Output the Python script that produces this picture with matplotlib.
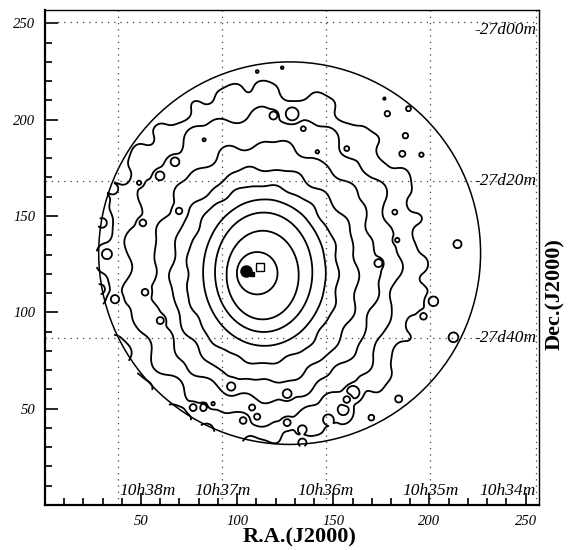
import numpy as np
import matplotlib
matplotlib.use("Agg")
import matplotlib.pyplot as plt
from matplotlib.patches import Circle

plt.rcParams['font.family'] = ['Liberation Serif', 'DejaVu Serif']

# contour rings: half-height, half-width, centre
level_half_h = [11, 23, 31, 38, 46, 55.5, 66.4, 79.5, 91]
level_half_w = [10.6, 18.7, 25.3, 31.9, 39.4, 48.3, 58.3, 70.3, 83.8]
level_cx = [110.4, 113.3, 113.8, 114.2, 113.2, 114.3, 114.7, 112.8, 113.3]
level_cy = [120.3, 119.3, 120.8, 120.6, 119.8, 119, 121, 123.5, 125]

# outward (+) / inward (-) push of the wiggly rings every 10 degrees
wig_angle = list(range(0, 360, 10))
push_ring5 = [0.5, -1, 1, 0, -1, 1.2, 0, -1, 1, -0.5, 0, 1, -1.2, 0.5, 1, -1, 0, 1,
              -1, 0.5, 1, -1, 0, 1, -0.5, -1, 1, 0, 1, -1, 0.5, 1, -1, 0, 1, -1]
push_ring6 = [1, -1.5, 0, 2, -1, 1, -2, 1.5, 0, -1.5, 2, 1, -1, -2, 1.5, 0, 1, -1.5,
              2, 0, -1, 1.5, -2, 1, 0, 1.5, -1, -2, 1, 2, -1.5, 0, 1, -1, 2, -1]
push_ring7 = [2.5, -1, -3.5, 2, 3.5, -2, 0, -3.5, 3, 1, -2.5, 3.5, -3, 1, 2.5, -3.5, 2, 0,
              -2.5, 3.5, -1, -3.5, 2, 3, -2.5, 1, -3.5, 2.5, 0, 3.5, -2, -3, 2.5, 1, -2.5, 3]
push_ring8 = [4, 0, -5.5, 6.5, -2, -6.5, 5, 1, -4, 5.5, -5, 2, 6.5, -4, -1, 5, -6.5, 2.5,
              -4, 6.5, 1, -5, 4, -6.5, 5, -1, -5, 6.5, 2.5, -4, -6.5, 4, 5, -2.5, 1, -5]
push_ring9 = [3, -8, -5, 7, -9, 1, -8, 6, -11, 8, 7, -3, -8, 4, 6, -6, 1, -7,
              4, -3, 7, -7, -1, 8, -8, -4, 7, 0, -8, 4, 8, -6, 3, -9, -7, 6]
# extra kinks on the outermost ring, half-way between the 10-degree points
kink_ring9 = [-3, 4, 2, -4, 3, -2, 5, -3, 2, -4, 3, 4, -3, -5, 2, 4, -3, 3,
              -4, 5, -2, 3, -4, -3, 4, 5, -3, 4, 2, -5, -3, 4, -2, 3, 4, -3]
ring_width = [3.0, 3.2, 3.3, 3.4, 3.8]

# small closed contours: x, y, radius
island_x = [118.8, 128.6, 134.4, 110.4, 123.4, 82.8, 141.7, 178.1, 189.1, 187.5,
            185.9, 195.8, 176.6, 214.6, 202.1, 196.9, 212.5, 184.0, 160.4, 155.2,
            169.8, 147.4, 96.9, 126.0, 107.8, 110.4, 103.1, 82.3, 77.1, 87.5,
            126.0, 133.9, 133.9, 67.7, 59.9, 49.0, 69.8, 51.0, 29.7, 52.1,
            35.4, 28.6, 36.5, 173.4, 183.3, 32.3, 157.0, 182.0, 157.0, 60.0]
island_y = [202.1, 203.1, 195.3, 225.0, 227.0, 189.6, 183.3, 203.1, 205.7, 191.7,
            182.3, 181.8, 210.9, 135.4, 105.7, 97.9, 87.0, 55.0, 58.3, 49.5,
            45.3, 44.3, 61.5, 57.8, 50.5, 45.8, 43.8, 50.5, 50.5, 52.6,
            42.7, 39.1, 32.3, 178.1, 170.8, 167.2, 152.6, 146.4, 146.4, 110.4,
            164.0, 112.0, 106.8, 125.5, 137.5, 130.2, 185.0, 152.0, 54.7, 95.7]
island_r = [2.0, 3.5, 1.3, 0.9, 0.9, 0.9, 0.9, 1.8, 1.8, 1.8,
            1.8, 1.5, 0.9, 2.8, 2.8, 1.8, 3.5, 2.3, 3.5, 3.0,
            1.8, 2.8, 2.3, 2.3, 1.8, 1.8, 1.8, 1.8, 1.8, 0.9,
            1.8, 2.3, 2.3, 2.3, 2.3, 1.1, 1.8, 1.8, 2.8, 1.8,
            2.8, 2.8, 2.3, 2.0, 1.1, 2.8, 1.4, 1.4, 1.8, 1.8]

# field of view circle
fov_x, fov_y, fov_r = 127.3, 130.7, 99.3

# peak and centroid markers
peak_x, peak_y = 104.7, 121.4
centroid_x, centroid_y = 112.0, 123.4

ra_pos = [38.2, 92.3, 146.2, 200.3, 255.2]
ra_text = ['10h38m', '10h37m', '10h36m', '10h35m', '10h34m']
dec_pos = [250.5, 168.4, 86.8]
dec_text = ['-27d00m', '-27d20m', '-27d40m']

# field whose value equals the ring half-height at every point
gx = np.arange(0, 257.5, 0.5)
gy = np.arange(0, 257.5, 0.5)
X, Y = np.meshgrid(gx, gy)
lh = np.array(level_half_h, float)
q = np.array(level_half_w) / lh

F = np.hypot((X - 114) / 0.9, Y - 120)
for _ in range(5):
    cx = np.interp(F, lh, level_cx)
    cy = np.interp(F, lh, level_cy)
    qq = np.interp(F, lh, q)
    F = np.hypot((X - cx) / qq, Y - cy)

# push each outer ring in and out along its own outline
th = np.radians(wig_angle)
rings = [(4, th, push_ring5), (5, th, push_ring6), (6, th, push_ring7),
         (7, th, push_ring8), (8, th, push_ring9), (8, th + np.radians(5), kink_ring9)]
for (k, ang, push), sw in zip(rings, ring_width + [3.0]):
    px = level_cx[k] + level_half_w[k] * np.cos(ang)
    py = level_cy[k] + level_half_h[k] * np.sin(ang)
    for bx, by, a in zip(px, py, push):
        F = F - a * np.exp(-((X - bx) ** 2 + (Y - by) ** 2) / (2 * sw ** 2))

# islands: flatten the field locally, then cross the nearest level once
spacing = np.diff(np.concatenate([[0], lh, [lh[-1] + 12]]))
for ix, iy, ir in zip(island_x, island_y, island_r):
    fc = F[int(round(iy / 0.5)), int(round(ix / 0.5))]
    k = np.argmin(np.abs(lh - fc))
    gap = lh[k] - fc
    sgn = 1.0 if gap >= 0 else -1.0
    gap = sgn * max(abs(gap), 1.2)
    base = lh[k] - gap
    room = 0.45 * (spacing[k + 1] if sgn > 0 else spacing[k])
    top = lh[k] + sgn * min(1.5 * abs(gap) + 0.8, room)
    d = np.hypot(X - ix, Y - iy)
    w = np.exp(-(d / (ir + 1.8)) ** 4)
    p = np.exp(-(d / ir) ** 6)
    F = F * (1 - w) + w * (base + (top - base) * p)

outside = np.hypot(X - fov_x, Y - fov_y) > fov_r + 1.5
F = np.ma.masked_where(outside, F)

fig = plt.figure(figsize=(5.68, 5.5), dpi=100)
ax = fig.add_axes([0.079, 0.082, 0.870, 0.900])

ax.contour(X, Y, F, levels=level_half_h, colors='black', linewidths=1.3)
ax.add_patch(Circle((fov_x, fov_y), fov_r, fill=False, color='black', lw=1.1))

for xv in ra_pos:
    ax.axvline(xv, color='0.25', lw=0.9, ls=(0, (1, 4)))
for yv in dec_pos:
    ax.axhline(yv, color='0.25', lw=0.9, ls=(0, (1, 4)))

ax.plot(peak_x, peak_y, 'o', color='black', ms=8)
ax.plot(peak_x + 3, peak_y - 1.5, 's', color='black', ms=2.5)
ax.plot(centroid_x, centroid_y, 's', mfc='white', mec='black', ms=6, mew=1)

tstyle = dict(fontsize=12.5, style='italic')
ax.text(ra_pos[0] + 0.5, 3, ra_text[0], ha='left', va='bottom', **tstyle)
for xv, t in zip(ra_pos[1:4], ra_text[1:4]):
    ax.text(xv, 3, t, ha='center', va='bottom', **tstyle)
ax.text(ra_pos[4], 3, ra_text[4], ha='right', va='bottom', **tstyle)
ax.text(255.5, dec_pos[0] - 4, dec_text[0], ha='right', va='center', **tstyle)
for yv, t in zip(dec_pos[1:], dec_text[1:]):
    ax.text(255.5, yv, t, ha='right', va='center', **tstyle)

ax.set_xlim(0, 257)
ax.set_ylim(0, 257)
ax.set_xticks([50, 100, 150, 200, 250])
ax.set_yticks([50, 100, 150, 200, 250])
ax.set_xticks(np.arange(10, 257, 10), minor=True)
ax.set_yticks(np.arange(10, 257, 10), minor=True)
ax.tick_params(which='both', direction='in', top=False, right=False, width=1.2)
ax.tick_params(which='major', length=9, labelsize=10.5, pad=7)
ax.tick_params(which='minor', length=5)
for lab in ax.get_xticklabels() + ax.get_yticklabels():
    lab.set_style('italic')
for side in ['left', 'bottom']:
    ax.spines[side].set_linewidth(1.6)
for side in ['top', 'right']:
    ax.spines[side].set_linewidth(1.0)

fig.text(0.528, 0.022, 'R.A.(J2000)', ha='center', va='center', fontsize=16, fontweight='bold')
fig.text(0.977, 0.465, 'Dec.(J2000)', ha='center', va='center', rotation=90, fontsize=16, fontweight='bold')

fig.savefig('out.png', dpi=100)
